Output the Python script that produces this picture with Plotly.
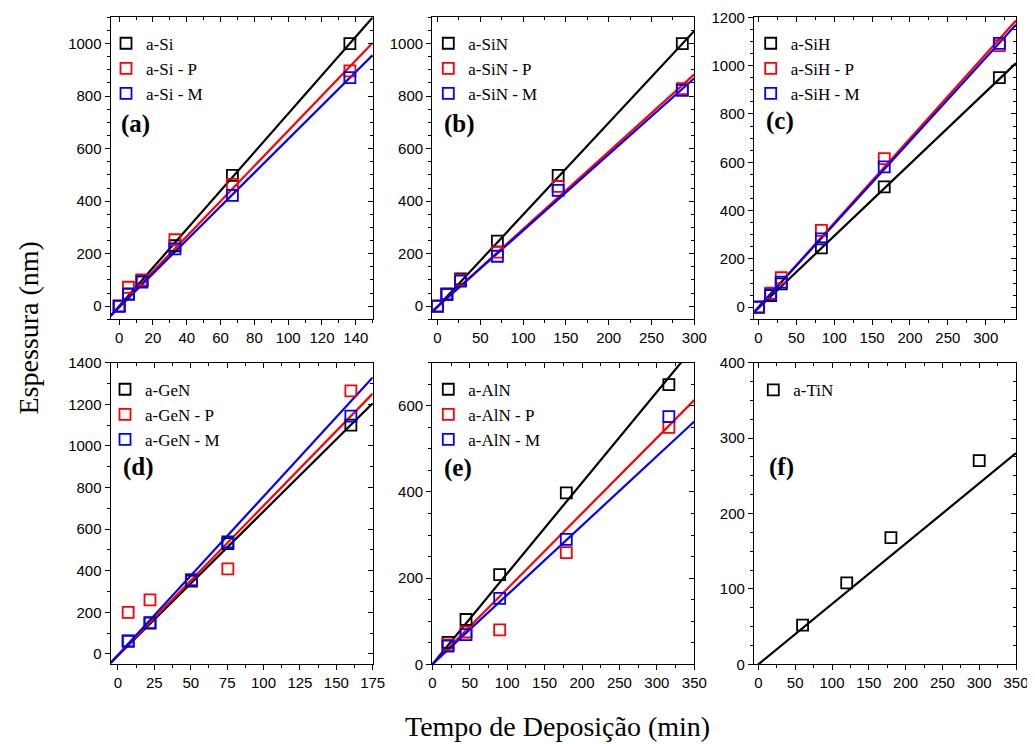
import plotly.graph_objects as go

# page has an 8px body margin: figure is sized to fit the 1035x744 window exactly
OFF = 8
W, H = 1035 - OFF, 744 - OFF

# ---------------- data ----------------
# (a) a-Si
a_Si_x = [0, 5.5, 13.5, 33, 67, 136.5]
a_Si_y = [0, 47, 98, 230, 498, 1000]
a_SiP_x = [0, 5.5, 13.5, 33, 67, 136.5]
a_SiP_y = [0, 72, 100, 253, 464, 896]
a_SiM_x = [0, 5.5, 13.5, 33, 67, 136.5]
a_SiM_y = [0, 45, 92, 218, 422, 870]
# (b) a-SiN
b_SiN_x = [0, 11, 27, 70, 141, 286]
b_SiN_y = [0, 47, 104, 248, 498, 1000]
b_SiNP_x = [0, 11, 27, 70, 141, 286]
b_SiNP_y = [0, 44, 100, 206, 456, 828]
b_SiNM_x = [0, 11, 27, 70, 141, 286]
b_SiNM_y = [0, 45, 95, 190, 441, 822]
# (c) a-SiH
c_SiH_x = [0, 16, 30, 83, 166, 318]
c_SiH_y = [0, 48, 97, 246, 498, 950]
c_SiHP_x = [0, 16, 30, 83, 166, 318]
c_SiHP_y = [0, 58, 122, 318, 615, 1083]
c_SiHM_x = [0, 16, 30, 83, 166, 318]
c_SiHM_y = [0, 52, 104, 283, 581, 1092]
# (d) a-GeN
d_GeN_x = [7, 22, 50.5, 75.5, 160]
d_GeN_y = [61, 148, 350, 530, 1100]
d_GeNP_x = [7, 22, 50.5, 75.5, 160]
d_GeNP_y = [200, 260, 356, 409, 1265]
d_GeNM_x = [7, 22, 50.5, 75.5, 160]
d_GeNM_y = [62, 150, 356, 538, 1143]
# (e) a-AlN
e_AlN_x = [21, 45, 90, 179, 316]
e_AlN_y = [51, 104, 208, 398, 649]
e_AlNP_x = [21, 45, 90, 179, 316]
e_AlNP_y = [45, 75, 80, 259, 550]
e_AlNM_x = [21, 45, 90, 179, 316]
e_AlNM_y = [42, 69, 153, 290, 575]
# (f) a-TiN
f_TiN_x = [60, 120, 180, 300]
f_TiN_y = [52, 108, 168, 270]

# linear fits (slope, intercept)
a_fit_slope = [7.33, 6.70, 6.40]
a_fit_icpt = [0.0, -2.0, -4.0]
b_fit_slope = [3.50, 2.95, 2.90]
b_fit_icpt = [-2.0, -2.0, -2.0]
c_fit_slope = [2.98, 3.49, 3.44]
c_fit_icpt = [-3.0, 0.0, 0.0]
d_fit_slope = [6.93, 7.19, 7.62]
d_fit_icpt = [-8.0, -7.0, -5.0]
e_fit_slope = [2.107, 1.752, 1.61]
e_fit_icpt = [0.0, 0.0, 0.0]
f_fit_slope = [0.80]
f_fit_icpt = [0.0]

# axis ranges
x_ranges = [[-5, 150], [-6, 300], [-6, 340], [-5, 175], [0, 350], [-6, 350]]
y_ranges = [[-50, 1100], [-50, 1100], [-50, 1200], [-50, 1400], [0, 700], [0, 400]]
x_dticks = [20, 50, 50, 25, 50, 50]
x_minor = [10, 25, 25, 12.5, 25, 25]
y_dticks = [200, 200, 200, 200, 200, 100]
y_minor = [50, 50, 50, 100, 50, 25]

panel_labels = ["(a)", "(b)", "(c)", "(d)", "(e)", "(f)"]
series_names = [
    ["a-Si", "a-Si - P", "a-Si - M"],
    ["a-SiN", "a-SiN - P", "a-SiN - M"],
    ["a-SiH", "a-SiH - P", "a-SiH - M"],
    ["a-GeN", "a-GeN - P", "a-GeN - M"],
    ["a-AlN", "a-AlN - P", "a-AlN - M"],
    ["a-TiN"],
]
xs = [
    [a_Si_x, a_SiP_x, a_SiM_x],
    [b_SiN_x, b_SiNP_x, b_SiNM_x],
    [c_SiH_x, c_SiHP_x, c_SiHM_x],
    [d_GeN_x, d_GeNP_x, d_GeNM_x],
    [e_AlN_x, e_AlNP_x, e_AlNM_x],
    [f_TiN_x],
]
ys = [
    [a_Si_y, a_SiP_y, a_SiM_y],
    [b_SiN_y, b_SiNP_y, b_SiNM_y],
    [c_SiH_y, c_SiHP_y, c_SiHM_y],
    [d_GeN_y, d_GeNP_y, d_GeNM_y],
    [e_AlN_y, e_AlNP_y, e_AlNM_y],
    [f_TiN_y],
]
slopes = [a_fit_slope, b_fit_slope, c_fit_slope, d_fit_slope, e_fit_slope, f_fit_slope]
icpts = [a_fit_icpt, b_fit_icpt, c_fit_icpt, d_fit_icpt, e_fit_icpt, f_fit_icpt]

colors = ["#000000", "#FF0000", "#0000FF"]

# ---------------- layout geometry (window pixels) ----------------
col_px = [(110.7, 372.7), (432.3, 694.3), (754.0, 1016.0)]
row_px = [(17.3, 319.3), (362.7, 664.3)]
legend_sym_px = [(126, 36.7), (448.3, 36.7), (770.7, 36.7),
                 (125, 382.7), (448.3, 382.7), (773.3, 383.3)]
label_px = [(119, 124), (441.7, 124), (764, 121), (120.7, 467), (441.7, 468), (766.7, 467)]


def px(xp):
    return (xp - OFF) / W


def py(yp):
    return 1 - (yp - OFF) / H


SERIF = "Liberation Serif"
SANS = "Liberation Sans"

fig = go.Figure()
layout = dict(
    template="none",
    width=W, height=H,
    margin=dict(l=0, r=0, t=0, b=0, pad=0, autoexpand=False),
    paper_bgcolor="white", plot_bgcolor="white",
    showlegend=True,
    annotations=[],
)

tick_font = dict(family=SANS, size=15, color="black")

for i in range(6):
    r, c = divmod(i, 3)
    xd = [px(col_px[c][0]), px(col_px[c][1])]
    yd = [py(row_px[r][1]), py(row_px[r][0])]
    n = i + 1
    xa = "x" if n == 1 else f"x{n}"
    ya = "y" if n == 1 else f"y{n}"
    lg = "legend" if n == 1 else f"legend{n}"

    for k in range(len(series_names[i])):
        x0, x1 = x_ranges[i]
        fx = [x0, x1]
        fy = [slopes[i][k] * v + icpts[i][k] for v in fx]
        fig.add_trace(go.Scatter(
            x=fx, y=fy, mode="lines", xaxis=xa, yaxis=ya,
            line=dict(color=colors[k], width=2.2), showlegend=False,
            hoverinfo="skip",
        ))
    for k in range(len(series_names[i])):
        fig.add_trace(go.Scatter(
            x=xs[i][k], y=ys[i][k], mode="markers", xaxis=xa, yaxis=ya,
            name=series_names[i][k], legend=lg,
            marker=dict(symbol="square-open", size=11, color=colors[k],
                        line=dict(width=1.8, color=colors[k])),
        ))

    axkey = "xaxis" if n == 1 else f"xaxis{n}"
    aykey = "yaxis" if n == 1 else f"yaxis{n}"
    common = dict(showgrid=False, zeroline=False, showline=True, linecolor="black",
                  linewidth=1.3, automargin=False, tick0=0, tickcolor="black",
                  tickwidth=1.2, ticklen=5)
    layout[axkey] = dict(
        domain=xd, anchor=ya, range=x_ranges[i], dtick=x_dticks[i],
        mirror=False, ticks="outside", tickfont=tick_font,
        minor=dict(dtick=x_minor[i], tick0=0, ticks="outside", ticklen=3,
                   tickwidth=1, tickcolor="black", showgrid=False),
        **common,
    )
    layout[aykey] = dict(
        domain=yd, anchor=xa, range=y_ranges[i], dtick=y_dticks[i],
        mirror=False, ticks="outside", tickfont=tick_font,
        minor=dict(dtick=y_minor[i], tick0=0, ticks="outside", ticklen=3,
                   tickwidth=1, tickcolor="black", showgrid=False),
        **common,
    )
    # mirrored axes (top/right) with inside ticks
    m = n + 6
    mxkey, mykey = f"xaxis{m}", f"yaxis{m}"
    layout[mxkey] = dict(
        domain=xd, anchor=f"y{m}", overlaying=xa, side="top",
        range=x_ranges[i], dtick=x_dticks[i], showticklabels=False,
        ticks="inside",
        minor=dict(dtick=x_minor[i], tick0=0, ticks="inside", ticklen=3,
                   tickwidth=1, tickcolor="black", showgrid=False),
        **common,
    )
    layout[mykey] = dict(
        domain=yd, anchor=f"x{m}", overlaying=ya, side="right",
        range=y_ranges[i], dtick=y_dticks[i], showticklabels=False,
        ticks="inside",
        minor=dict(dtick=y_minor[i], tick0=0, ticks="inside", ticklen=3,
                   tickwidth=1, tickcolor="black", showgrid=False),
        **common,
    )
    fig.add_trace(go.Scatter(x=[None], y=[None], xaxis=f"x{m}", yaxis=f"y{m}",
                             showlegend=False, hoverinfo="skip"))

    sx, sy = legend_sym_px[i]
    layout[lg] = dict(
        x=px(sx - 20), y=py(sy - 11), xanchor="left", yanchor="top",
        bgcolor="rgba(0,0,0,0)", borderwidth=0,
        font=dict(family=SERIF, size=17, color="black"),
        tracegroupgap=0, itemsizing="trace",
    )

    lx, lyc = label_px[i]
    layout["annotations"].append(dict(
        text="<b>" + panel_labels[i] + "</b>", x=px(lx), y=py(lyc),
        xref="paper", yref="paper", xanchor="left", yanchor="middle",
        showarrow=False,
        font=dict(family=SERIF, size=25, color="black"),
    ))

layout["annotations"].append(dict(
    text="Espessura (nm)", x=px(28.5), y=py(328), xref="paper", yref="paper",
    xanchor="center", yanchor="middle", textangle=-90, showarrow=False,
    font=dict(family=SERIF, size=28, color="black"),
))
layout["annotations"].append(dict(
    text="Tempo de Deposição (min)", x=px(403), y=0, xref="paper", yref="paper",
    xanchor="left", yanchor="bottom", showarrow=False,
    font=dict(family=SERIF, size=28, color="black"),
))

fig.update_layout(**layout)
fig.write_html("out.html")
